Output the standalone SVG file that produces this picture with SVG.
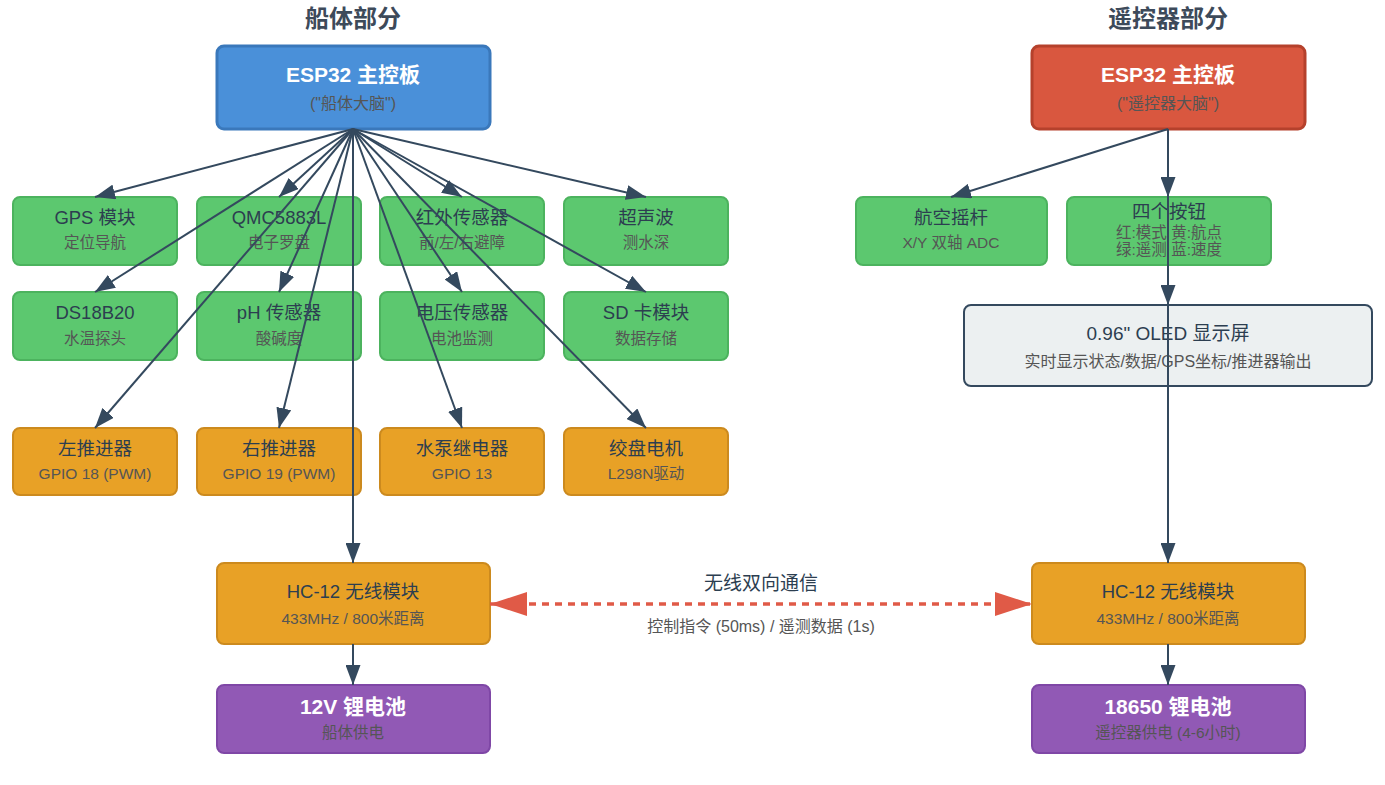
<svg xmlns="http://www.w3.org/2000/svg" width="1385" height="785" viewBox="0 0 1385 785">
<style>
text{font-family:"Liberation Sans","Noto Sans CJK SC",sans-serif;text-anchor:middle;dominant-baseline:central}
.sec{font-size:24px;font-weight:bold;fill:#3d4a5a}
.mt{font-size:21px;font-weight:bold;fill:#fff}
.ms{font-size:16px;fill:#555}
.t{font-size:18.5px;fill:#2c3e50}
.s{font-size:15.5px;fill:#555}
.s2{font-size:16px;fill:#555}
.bt{font-size:21px;font-weight:bold;fill:#fff}
.blue{fill:#4a90d9;stroke:#3a78bb;stroke-width:3}
.red{fill:#d9573f;stroke:#b5412c;stroke-width:3}
.green{fill:#5cc86f;stroke:#4cb35e;stroke-width:2}
.orange{fill:#e8a126;stroke:#cc8a1e;stroke-width:2}
.purple{fill:#9159b5;stroke:#7f47a6;stroke-width:2}
.gray{fill:#ecf0f1;stroke:#34495e;stroke-width:2}
.e{stroke:#34495e;stroke-width:2;fill:none;marker-end:url(#ah)}
.w{stroke:#e05a47;stroke-width:3.5;fill:none;stroke-dasharray:7 6;marker-start:url(#rs);marker-end:url(#re)}
</style>
<defs>
<marker id="ah" viewBox="0 0 20 15" refX="20" refY="7.5" markerWidth="20" markerHeight="15" markerUnits="userSpaceOnUse" orient="auto"><path d="M0,0 L20,7.5 L0,15 Z" fill="#34495e"/></marker>
<marker id="re" viewBox="0 0 37 24" refX="37" refY="12" markerWidth="37" markerHeight="24" markerUnits="userSpaceOnUse" orient="auto"><path d="M0,0 L37,12 L0,24 Z" fill="#e05a47"/></marker>
<marker id="rs" viewBox="0 0 37 24" refX="0" refY="12" markerWidth="37" markerHeight="24" markerUnits="userSpaceOnUse" orient="auto"><path d="M37,0 L0,12 L37,24 Z" fill="#e05a47"/></marker>
</defs>
<rect width="1385" height="785" fill="#fff"/>
<text class="sec" x="353" y="18">船体部分</text>
<text class="sec" x="1168" y="18">遥控器部分</text>

<g id="boat-esp32"><rect class="blue" x="217" y="46" width="273" height="83" rx="7"/><text class="mt" x="353" y="74">ESP32 主控板</text><text class="ms" x="353" y="103">("船体大脑")</text></g>
<g id="gps"><rect class="green" x="13" y="197" width="164" height="68" rx="7"/><text class="t" x="95" y="217">GPS 模块</text><text class="s" x="95" y="242">定位导航</text></g>
<g id="qmc"><rect class="green" x="197" y="197" width="164" height="68" rx="7"/><text class="t" x="279" y="217">QMC5883L</text><text class="s" x="279" y="242">电子罗盘</text></g>
<g id="ir"><rect class="green" x="380" y="197" width="164" height="68" rx="7"/><text class="t" x="462" y="217">红外传感器</text><text class="s" x="462" y="242">前/左/右避障</text></g>
<g id="ultra"><rect class="green" x="564" y="197" width="164" height="68" rx="7"/><text class="t" x="646" y="217">超声波</text><text class="s" x="646" y="242">测水深</text></g>
<g id="ds18b20"><rect class="green" x="13" y="292" width="164" height="68" rx="7"/><text class="t" x="95" y="312">DS18B20</text><text class="s" x="95" y="338">水温探头</text></g>
<g id="ph"><rect class="green" x="197" y="292" width="164" height="68" rx="7"/><text class="t" x="279" y="312">pH 传感器</text><text class="s" x="279" y="338">酸碱度</text></g>
<g id="volt"><rect class="green" x="380" y="292" width="164" height="68" rx="7"/><text class="t" x="462" y="312">电压传感器</text><text class="s" x="462" y="338">电池监测</text></g>
<g id="sd"><rect class="green" x="564" y="292" width="164" height="68" rx="7"/><text class="t" x="646" y="312">SD 卡模块</text><text class="s" x="646" y="338">数据存储</text></g>
<g id="left-thruster"><rect class="orange" x="13" y="428" width="164" height="67" rx="7"/><text class="t" x="95" y="448">左推进器</text><text class="s" x="95" y="473">GPIO 18 (PWM)</text></g>
<g id="right-thruster"><rect class="orange" x="197" y="428" width="164" height="67" rx="7"/><text class="t" x="279" y="448">右推进器</text><text class="s" x="279" y="473">GPIO 19 (PWM)</text></g>
<g id="pump"><rect class="orange" x="380" y="428" width="164" height="67" rx="7"/><text class="t" x="462" y="448">水泵继电器</text><text class="s" x="462" y="473">GPIO 13</text></g>
<g id="winch"><rect class="orange" x="564" y="428" width="164" height="67" rx="7"/><text class="t" x="646" y="448">绞盘电机</text><text class="s" x="646" y="473">L298N驱动</text></g>
<g id="boat-hc12"><rect class="orange" x="217" y="563" width="273" height="81" rx="7"/><text class="t" x="353" y="591">HC-12 无线模块</text><text class="s" x="353" y="618">433MHz / 800米距离</text></g>
<g id="boat-battery"><rect class="purple" x="217" y="685" width="273" height="68" rx="7"/><text class="bt" x="353" y="706">12V 锂电池</text><text class="s" x="353" y="732">船体供电</text></g>

<g id="rc-esp32"><rect class="red" x="1032" y="46" width="273" height="83" rx="7"/><text class="mt" x="1168" y="74">ESP32 主控板</text><text class="ms" x="1168" y="103">("遥控器大脑")</text></g>
<g id="joystick"><rect class="green" x="856" y="197" width="191" height="68" rx="7"/><text class="t" x="951" y="217">航空摇杆</text><text class="s" x="951" y="242">X/Y 双轴 ADC</text></g>
<g id="buttons"><rect class="green" x="1067" y="197" width="204" height="68" rx="7"/><text class="t" x="1169" y="211">四个按钮</text><text class="s" x="1169" y="232">红:模式 黄:航点</text><text class="s" x="1169" y="249">绿:遥测 蓝:速度</text></g>
<g id="oled"><rect class="gray" x="964" y="305" width="408" height="81" rx="7"/><text class="t" x="1168" y="333" style="font-size:19px">0.96" OLED 显示屏</text><text class="s2" x="1168" y="361">实时显示状态/数据/GPS坐标/推进器输出</text></g>
<g id="rc-hc12"><rect class="orange" x="1032" y="563" width="273" height="81" rx="7"/><text class="t" x="1168" y="591">HC-12 无线模块</text><text class="s" x="1168" y="618">433MHz / 800米距离</text></g>
<g id="rc-battery"><rect class="purple" x="1032" y="685" width="273" height="68" rx="7"/><text class="bt" x="1168" y="706">18650 锂电池</text><text class="s" x="1168" y="732">遥控器供电 (4-6小时)</text></g>

<g id="connectors">
<line class="e" x1="353" y1="129" x2="95" y2="197"/>
<line class="e" x1="353" y1="129" x2="279" y2="197"/>
<line class="e" x1="353" y1="129" x2="462" y2="197"/>
<line class="e" x1="353" y1="129" x2="646" y2="197"/>
<line class="e" x1="353" y1="129" x2="95" y2="292"/>
<line class="e" x1="353" y1="129" x2="279" y2="292"/>
<line class="e" x1="353" y1="129" x2="462" y2="292"/>
<line class="e" x1="353" y1="129" x2="646" y2="292"/>
<line class="e" x1="353" y1="129" x2="95" y2="428"/>
<line class="e" x1="353" y1="129" x2="279" y2="428"/>
<line class="e" x1="353" y1="129" x2="462" y2="428"/>
<line class="e" x1="353" y1="129" x2="646" y2="428"/>
<line class="e" x1="353" y1="129" x2="353" y2="563"/>
<line class="e" x1="353" y1="644" x2="353" y2="685"/>
<line class="e" x1="1168" y1="129" x2="951" y2="197"/>
<line class="e" x1="1168" y1="129" x2="1168" y2="197"/>
<line class="e" x1="1168" y1="129" x2="1168" y2="305"/>
<line class="e" x1="1168" y1="129" x2="1168" y2="563"/>
<line class="e" x1="1168" y1="644" x2="1168" y2="685"/>
<line class="w" x1="490" y1="604" x2="1032" y2="604"/>
<text x="761" y="583" style="font-size:19px;fill:#2c3e50">无线双向通信</text>
<text x="761" y="626" style="font-size:16px;fill:#555">控制指令 (50ms) / 遥测数据 (1s)</text>
</g>
</svg>
